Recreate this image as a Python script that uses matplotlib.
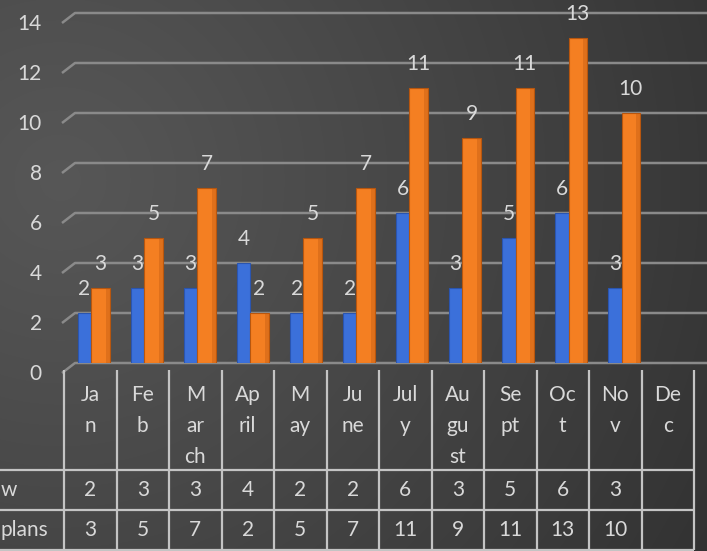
import numpy as np
import matplotlib
matplotlib.use("Agg")
import matplotlib.pyplot as plt

plt.rcParams['font.family'] = ['Lato', 'DejaVu Sans']

# ---- data ----
months = ["Ja\nn", "Fe\nb", "M\nar\nch", "Ap\nril", "M\nay", "Ju\nne",
          "Jul\ny", "Au\ngu\nst", "Se\npt", "Oc\nt", "No\nv", "De\nc"]
series_w = [2, 3, 3, 4, 2, 2, 6, 3, 5, 6, 3, None]
series_plans = [3, 5, 7, 2, 5, 7, 11, 9, 11, 13, 10, None]
row_labels = ["w", "plans"]
y_ticks = [0, 2, 4, 6, 8, 10, 12, 14]

W, H = 707, 551
TXT = "#d9d9d9"
GRID = "#8a8a8a"
BLUE = "#3b70da"
BLUE_DARK = "#2a55b0"
ORANGE = "#f47f22"
ORANGE_DARK = "#b8560e"

fig = plt.figure(figsize=(W / 100, H / 100), dpi=100)

# dark radial background
bg = fig.add_axes([0, 0, 1, 1], zorder=-10)
yy, xx = np.mgrid[0:H, 0:W]
d = np.sqrt((xx - 60.0) ** 2 + ((yy - 180.0) * 1.0) ** 2) / 780.0
d = np.clip(d, 0, 1)
c0, c1 = 0.34, 0.19
shade = c0 + (c1 - c0) * d ** 1.1
img = np.dstack([shade, shade, shade])
bg.imshow(img, extent=(0, W, H, 0), aspect='auto')
bg.set_xlim(0, W)
bg.set_ylim(H, 0)
bg.axis('off')

# plot area in data units: 52.5 px per month, 25 px per unit
left_px, right_px = 64, 694
base_px = 363
ppu = 25.0
ax = fig.add_axes([left_px / W, (H - base_px) / H, (right_px - left_px) / W, base_px / H])
ax.set_xlim(-0.5, 11.5)
ax.set_ylim(0, base_px / ppu)
ax.patch.set_alpha(0)
for s in ax.spines.values():
    s.set_visible(False)
ax.set_xticks([])
ax.set_yticks([])

cat_px = (right_px - left_px) / 12.0
# gridlines: short slanted stub from the front edge, then the back wall line
for v in y_ticks:
    x_front = -0.5 - 2 / cat_px
    x_back = -0.5 + 11 / cat_px
    x_end = 11.5 + 14 / cat_px
    ax.plot([x_front, x_back, x_end], [v - 10 / ppu, v, v], color=GRID,
            lw=1.8, clip_on=False, zorder=1, solid_capstyle='butt')
    ax.text(-0.5 - 22 / cat_px, v - 11 / ppu, str(v), ha='right', va='center',
            color=TXT, fontsize=15, clip_on=False)

# columns
for i, (a, b) in enumerate(zip(series_w, series_plans)):
    shift = 0.01 * i
    bl = i - 0.24 + shift
    bw = 0.26
    ow = 0.35
    if a is not None:
        ax.bar(bl, a, width=bw, align='edge', color=BLUE, edgecolor=BLUE_DARK,
               linewidth=0.8, zorder=3)
        ax.annotate(str(a), (bl + bw / 2, a), xytext=(0, 17), textcoords='offset points',
                    ha='center', va='center', color=TXT, fontsize=15, zorder=6)
    if b is not None:
        ol = bl + bw
        ax.bar(ol, b, width=ow, align='edge', color=ORANGE, edgecolor=ORANGE_DARK,
               linewidth=0.8, zorder=4)
        ax.bar(ol + ow * 0.78, b, width=ow * 0.22, align='edge', color=ORANGE_DARK,
               alpha=0.35, linewidth=0, zorder=4.5)
        ax.annotate(str(b), (ol + ow / 2, b), xytext=(0, 17), textcoords='offset points',
                    ha='center', va='center', color=TXT, fontsize=15, zorder=6)

# data table below the plot, in pixel coordinates
tb = fig.add_axes([0, 0, 1, 1], zorder=5)
tb.set_xlim(0, W)
tb.set_ylim(H, 0)
tb.axis('off')
tb.patch.set_alpha(0)

LINE = "#c4c4c4"
row_y = [470, 510, 550]
for y in row_y:
    tb.plot([0, right_px], [y, y], color=LINE, lw=1.6, solid_capstyle='butt')
for k in range(13):
    x = left_px + k * cat_px
    tb.plot([x, x], [370, 550], color=LINE, lw=1.6, solid_capstyle='butt')

for k, m in enumerate(months):
    cx = left_px + (k + 0.5) * cat_px
    for j, part in enumerate(m.split("\n")):
        tb.text(cx, 395 + 31 * j, part, ha='center', va='center', color=TXT, fontsize=15)

for r, (lab, vals) in enumerate(zip(row_labels, [series_w, series_plans])):
    cy = 490 + 40 * r
    tb.text(1, cy, lab, ha='left', va='center', color=TXT, fontsize=15)
    for k, v in enumerate(vals):
        if v is None:
            continue
        cx = left_px + (k + 0.5) * cat_px
        tb.text(cx, cy, str(v), ha='center', va='center', color=TXT, fontsize=15)

fig.savefig("out.png", dpi=100)
